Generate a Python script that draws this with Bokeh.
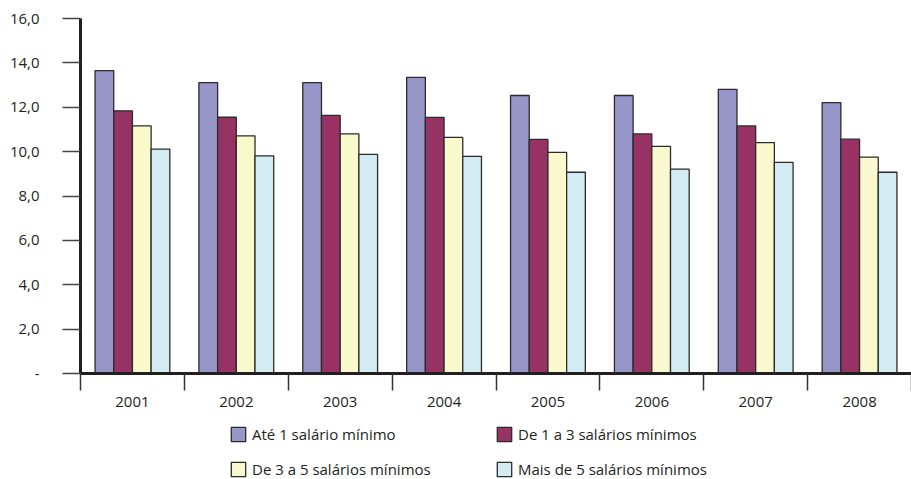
import numpy as np
from bokeh.plotting import figure
from bokeh.layouts import column
from bokeh.models import ColumnDataSource, FixedTicker, Legend, LegendItem, Range1d
from bokeh.embed import file_html
from bokeh.resources import INLINE

# Years on the category axis
years = ["2001", "2002", "2003", "2004", "2005", "2006", "2007", "2008"]

# Series names (income brackets in minimum wages)
series_names = [
    "Até 1 salário mínimo",
    "De 1 a 3 salários mínimos",
    "De 3 a 5 salários mínimos",
    "Mais de 5 salários mínimos",
]

# Values per year for each bracket
ate_1 = [13.65, 13.11, 13.11, 13.35, 12.53, 12.53, 12.81, 12.21]
de_1_a_3 = [11.84, 11.55, 11.63, 11.54, 10.55, 10.80, 11.16, 10.56]
de_3_a_5 = [11.16, 10.71, 10.80, 10.64, 9.97, 10.24, 10.41, 9.75]
mais_de_5 = [10.11, 9.81, 9.88, 9.79, 9.07, 9.21, 9.52, 9.07]

# Y axis ticks and their labels
y_ticks = [0, 2, 4, 6, 8, 10, 12, 14, 16]
y_tick_labels = ["-", "2,0", "4,0", "6,0", "8,0", "10,0", "12,0", "14,0", "16,0"]

colors = ["#9696C8", "#963264", "#FAF8CD", "#D3ECF2"]
offsets = [-0.27, -0.09, 0.09, 0.27]
bar_width = 0.18

FONT = "Open Sans"
FONT_SIZE = "15px"
TEXT_COLOR = "#231F20"
BAR_LINE = "#2B2B2B"

p = figure(
    width=911, height=415,
    x_range=Range1d(0, len(years)), y_range=Range1d(0, 16),
    min_border_left=80, min_border_right=0,
    min_border_top=18, min_border_bottom=42,
    output_backend="svg", toolbar_location=None,
    outline_line_color=None, background_fill_color="white",
    border_fill_color="white",
)
p.grid.visible = False

centers = np.arange(len(years)) + 0.5
renderers = []
for values, off, color in zip([ate_1, de_1_a_3, de_3_a_5, mais_de_5], offsets, colors):
    src = ColumnDataSource(dict(x=centers + off, top=values))
    r = p.vbar(x="x", top="top", width=bar_width, bottom=0, source=src,
               fill_color=color, line_color=BAR_LINE, line_width=1.3)
    renderers.append(r)

# Y axis
ya = p.yaxis[0]
ya.ticker = FixedTicker(ticks=y_ticks, minor_ticks=[])
ya.major_label_overrides = {t: lab for t, lab in zip(y_ticks, y_tick_labels)}
ya.major_tick_out = 18
ya.major_tick_in = 0
ya.minor_tick_out = 0
ya.minor_tick_in = 0
ya.major_tick_line_color = "#444444"
ya.major_tick_line_width = 1.5
ya.axis_line_color = TEXT_COLOR
ya.axis_line_width = 3
ya.major_label_standoff = 23
ya.major_label_text_font = FONT
ya.major_label_text_font_size = FONT_SIZE
ya.major_label_text_color = TEXT_COLOR

# X axis: labels at category centres, ticks at category boundaries
xa = p.xaxis[0]
xa.ticker = FixedTicker(ticks=list(centers), minor_ticks=list(range(len(years) + 1)))
xa.major_label_overrides = {float(c): y for c, y in zip(centers, years)}
xa.major_tick_out = 0
xa.major_tick_in = 0
xa.minor_tick_out = 17
xa.minor_tick_in = 0
xa.minor_tick_line_color = "#333333"
xa.minor_tick_line_width = 1.5
xa.axis_line_color = TEXT_COLOR
xa.axis_line_width = 3
xa.major_label_standoff = 6
xa.major_label_text_font = FONT
xa.major_label_text_font_size = FONT_SIZE
xa.major_label_text_color = TEXT_COLOR

# Legend strip: 2x2 grid of entries under the chart
leg_fig = figure(
    width=911, height=64,
    x_range=Range1d(0, 1), y_range=Range1d(0, 1),
    min_border=0, min_border_left=0, min_border_right=0,
    min_border_top=0, min_border_bottom=0,
    output_backend="svg", toolbar_location=None,
    outline_line_color=None, background_fill_color="white",
    border_fill_color="white",
)
leg_fig.axis.visible = False
leg_fig.grid.visible = False

# positions relative to the (column-aligned) frame left edge
legend_positions = [(149, 35), (415, 35), (149, 0), (415, 0)]
for name, color, loc in zip(series_names, colors, legend_positions):
    # hidden proxy bar that only supplies the legend swatch style
    proxy = leg_fig.vbar(x=[0.5], top=[0.5], width=0.1, fill_color=color,
                         line_color=BAR_LINE, line_width=1.3)
    proxy.visible = False
    leg = Legend(
        items=[LegendItem(label=name, renderers=[proxy])],
        location=loc,
        padding=0, margin=0, spacing=0,
        border_line_color=None, background_fill_alpha=0,
        inactive_fill_alpha=0,
        glyph_width=18, glyph_height=18, label_height=18,
        label_standoff=5,
        label_text_font=FONT, label_text_font_size=FONT_SIZE,
        label_text_color=TEXT_COLOR,
    )
    leg_fig.add_layout(leg)

layout = column(p, leg_fig, spacing=0)
open("out.html", "w").write(file_html(layout, INLINE))
